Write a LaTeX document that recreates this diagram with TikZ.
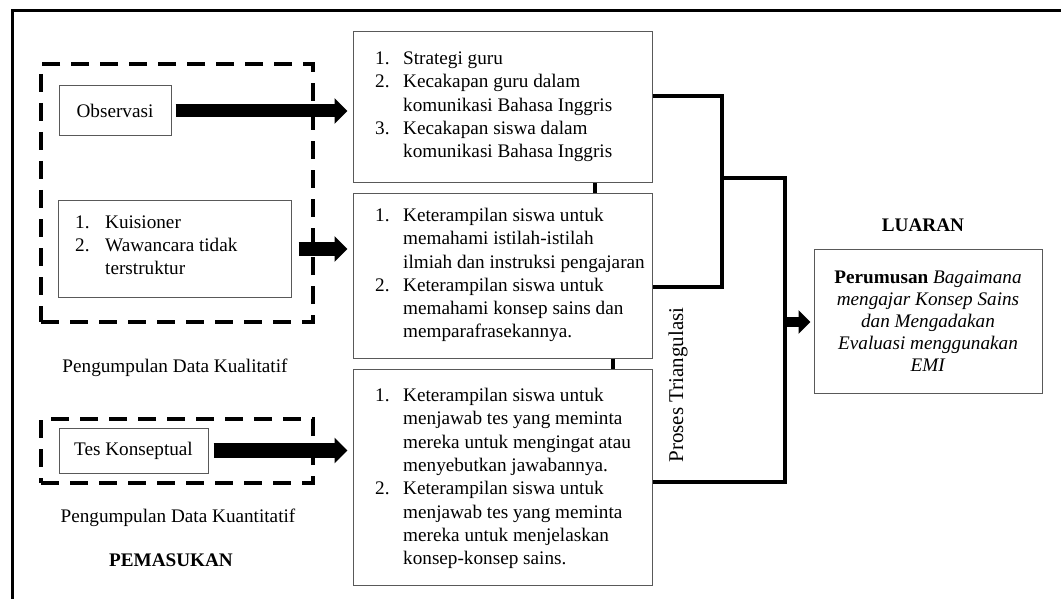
\documentclass[tikz,border=0pt]{standalone}
\usepackage{fontspec}
\setmainfont{Liberation Serif}
\usetikzlibrary{arrows.meta}
\begin{document}
\begin{tikzpicture}[x=1pt,y=-1pt,
  font=\fontsize{19.2}{23.3}\selectfont,
  box/.style={draw=black!65, line width=1pt, inner sep=0pt},
  dashbox/.style={draw=black, line width=4.5pt, dash pattern=on 18pt off 11pt, inner sep=0pt},
  bracket/.style={draw=black, line width=4.5pt, line join=miter},
  lbl/.style={inner sep=0pt},
  blockarrow/.style={draw=black, line width=#1, -{Triangle[width=25pt,length=13pt]}},
]
\useasboundingbox (0,0) rectangle (1061,599);
% outer frame (only top and left visible)
\draw[line width=3pt] (12,599) -- (12,11) -- (1061,11);

% dashed groups
\node[dashbox, minimum width=272pt, minimum height=258pt] (dk) at (177,193) {};
\node[dashbox, minimum width=272pt, minimum height=64pt] (dq) at (177,451) {};

% left boxes
\node[box, minimum width=112pt, minimum height=50pt] (obs) at (115,111) {Observasi};
\node[box, minimum width=233pt, minimum height=97pt] (kui) at (175,249) {};
\node[lbl, anchor=west] (kuit) at (75,247) {\begin{tabular}{@{}p{30pt}@{}l@{}}
1. & Kuisioner\\
2. & Wawancara tidak\\
 & terstruktur
\end{tabular}};
\node[box, minimum width=149pt, minimum height=45pt] (tes) at (133.5,450.5) {Tes Konseptual};

\node[lbl] (kual) at (175,368) {Pengumpulan Data Kualitatif};
\node[lbl] (kuan) at (178,518) {Pengumpulan Data Kuantitatif};
\node[lbl] (pem) at (171,560) {\textbf{PEMASUKAN}};

% middle boxes
\node[box, minimum width=299pt, minimum height=151pt] (m1) at (502.5,107.5) {};
\node[lbl, anchor=west] (m1t) at (375,106.5) {\begin{tabular}{@{}p{28pt}@{}l@{}}
1. & Strategi guru\\
2. & Kecakapan guru dalam\\
 & komunikasi Bahasa Inggris\\
3. & Kecakapan siswa dalam\\
 & komunikasi Bahasa Inggris
\end{tabular}};

\node[box, minimum width=299pt, minimum height=164pt] (m2) at (502.5,276) {};
\node[lbl, anchor=west] (m2t) at (375,275) {\begin{tabular}{@{}p{28pt}@{}l@{}}
1. & Keterampilan siswa untuk\\
 & memahami istilah-istilah\\
 & ilmiah dan instruksi pengajaran\\
2. & Keterampilan siswa untuk\\
 & memahami konsep sains dan\\
 & memparafrasekannya.
\end{tabular}};

\node[box, minimum width=299pt, minimum height=216pt] (m3) at (502.5,477) {};
\node[lbl, anchor=west] (m3t) at (375,478.5) {\begin{tabular}{@{}p{28pt}@{}l@{}}
1. & Keterampilan siswa untuk\\
 & menjawab tes yang meminta\\
 & mereka untuk mengingat atau\\
 & menyebutkan jawabannya.\\
2. & Keterampilan siswa untuk\\
 & menjawab tes yang meminta\\
 & mereka untuk menjelaskan\\
 & konsep-konsep sains.
\end{tabular}};

% short links between middle boxes
\coordinate (v1) at (595,0);
\coordinate (v2) at (613,0);
\draw[bracket] (m1.south -| v1) -- (m2.north -| v1);
\draw[bracket] (m2.south -| v2) -- (m3.north -| v2);

% output
\node[lbl] (luaran) at (923,225) {\textbf{LUARAN}};
\node[box, minimum width=228pt, minimum height=144pt, align=center,
      font=\fontsize{19.2}{22}\selectfont] (out) at (928,321)
  {\textbf{Perumusan} \textit{Bagaimana}\\
   \textit{mengajar Konsep Sains}\\
   \textit{dan Mengadakan}\\
   \textit{Evaluasi menggunakan}\\
   \textit{EMI}};

% brackets
\coordinate (b1) at (0,96);
\coordinate (b2) at (0,287);
\coordinate (j1) at (722,178);
\coordinate (j2) at (785,178);
\coordinate (b3) at (0,482);
\draw[bracket] (m1.east |- b1) -- (722,96) -- (722,287) -- (m2.east |- b2);
\draw[bracket] (j1) -- (j2) -- (785,482) -- (m3.east |- b3);

\node[lbl, rotate=90, font=\fontsize{21}{25}\selectfont] (tri) at (678,385) {Proses Triangulasi};

% block arrows
\draw[blockarrow=13pt, shorten <=4pt, shorten >=5pt] (obs.east) -- (obs.east -| m1.west);
\draw[blockarrow=14pt, shorten <=6.5pt, shorten >=5pt] (kui.east) -- (kui.east -| m2.west);
\draw[blockarrow=15pt, shorten <=5pt, shorten >=5pt] (tes.east) -- (tes.east -| m3.west);
\coordinate (a4) at (785,322);
\draw[draw=black, line width=10pt, -{Triangle[width=23pt,length=12pt]}, shorten >=3pt] (a4) -- (a4 -| out.west);
\end{tikzpicture}
\end{document}
